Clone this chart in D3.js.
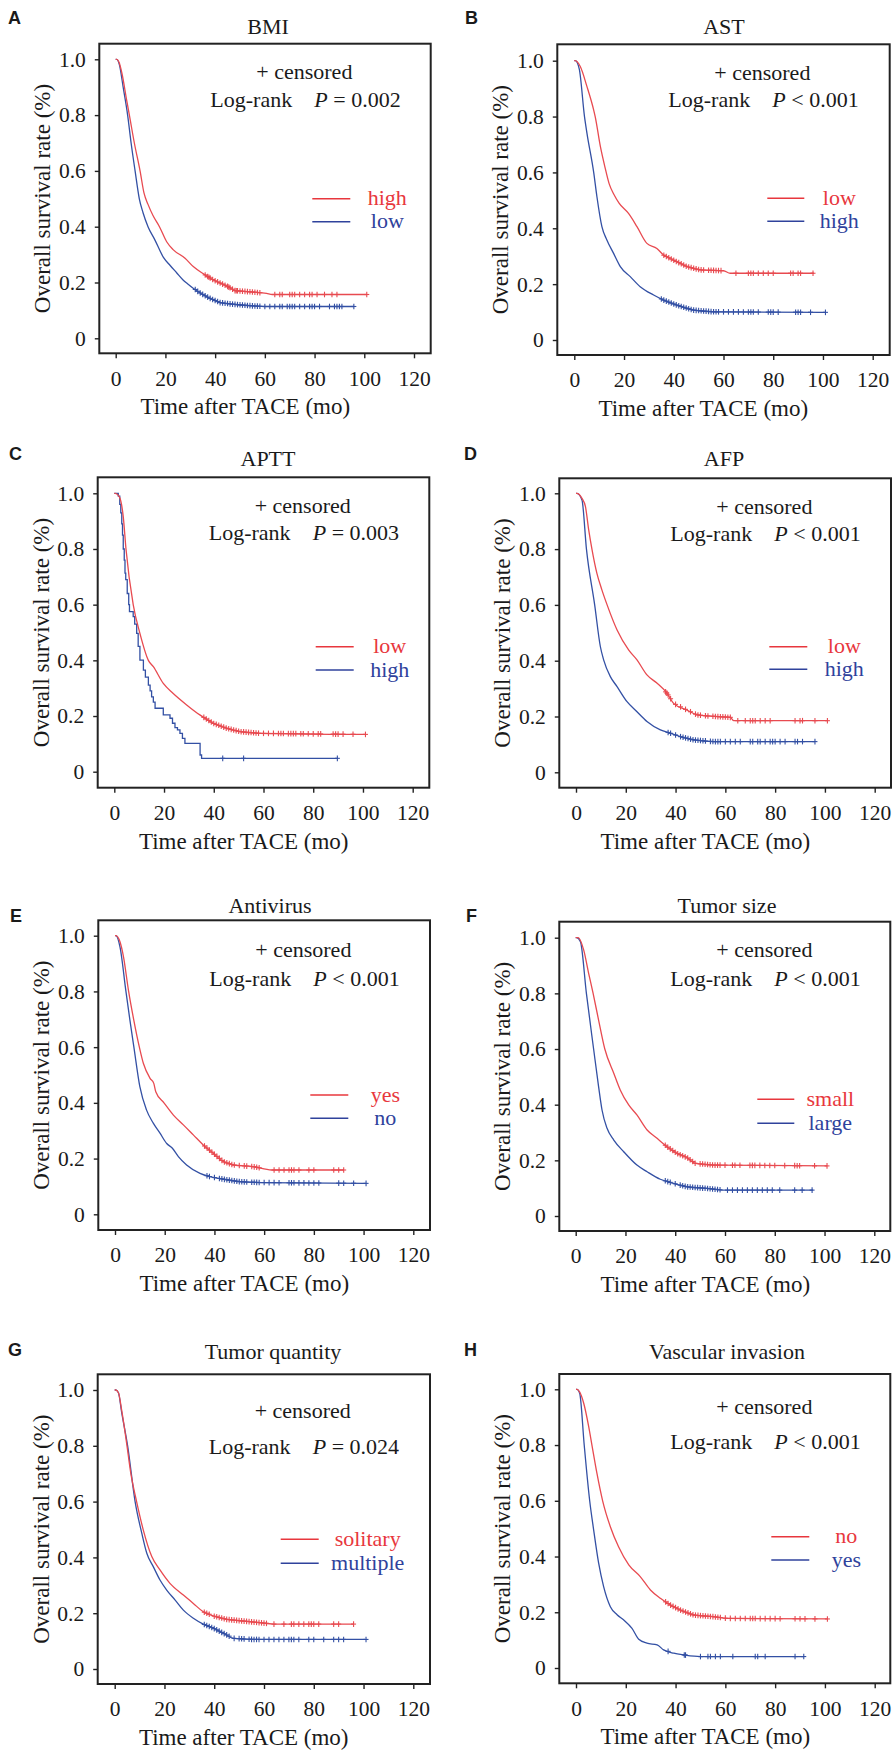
<!DOCTYPE html>
<html><head><meta charset="utf-8">
<script src="https://cdn.jsdelivr.net/npm/d3@7/dist/d3.min.js"></script>
<style>
html,body{margin:0;padding:0;background:#fff;}
svg{display:block;}
svg text{font-family:"Liberation Serif","Times New Roman",serif;}
svg text.plabel{font-family:"Liberation Sans",Arial,sans-serif;font-weight:bold;}
</style></head>
<body>
<svg id="chart" width="894" height="1754"></svg>
<script>
// ---------------- DATA ----------------
const panelLetters = ["A","B","C","D","E","F","G","H"];
const panelTitles = ["BMI","AST","APTT","AFP","Antivirus","Tumor size","Tumor quantity","Vascular invasion"];
const pValues = ["P = 0.002","P < 0.001","P = 0.003","P < 0.001","P < 0.001","P < 0.001","P = 0.024","P < 0.001"];
const redLabels = ["high","low","low","low","yes","small","solitary","no"];
const blueLabels = ["low","high","high","high","no","large","multiple","yes"];
const xTicks = [0,20,40,60,80,100,120];
const yTicks = [0,0.2,0.4,0.6,0.8,1.0];
const xTitle = "Time after TACE (mo)";
const yTitle = "Overall survival rate (%)";

// survival curves [months, survival]
const bmiHigh = [[0,1],[0.4,1],[1.3,0.99],[2.5,0.95],[4.4,0.854],[5.5,0.8],[7.5,0.7],[9.8,0.6],[11.4,0.52],[13,0.48],[15,0.44],[17.6,0.4],[20.5,0.346],[23.2,0.317],[27.9,0.287],[31.2,0.257],[35.3,0.231],[39.3,0.209],[44.6,0.188],[48,0.171],[55,0.166],[60.7,0.161],[63,0.157],[101,0.157]];
const bmiLow = [[0,1],[0.4,1],[1.5,0.98],[3,0.9],[4.8,0.8],[6.2,0.7],[7.8,0.6],[9.5,0.5],[11,0.45],[13,0.4],[15.8,0.352],[19.2,0.29],[22,0.26],[24.5,0.235],[27,0.21],[29,0.195],[33.5,0.165],[37.5,0.145],[42,0.128],[47.3,0.122],[55.4,0.116],[60,0.114],[95.8,0.114]];
const astLow = [[0,1],[0.4,1],[2.4,0.979],[5.1,0.907],[7.8,0.823],[8.4,0.8],[10.5,0.692],[12.3,0.62],[14,0.56],[16,0.52],[18,0.49],[21.8,0.453],[25.2,0.406],[29.2,0.346],[33.2,0.328],[35.9,0.304],[39.9,0.286],[45.3,0.263],[50.7,0.251],[60,0.248],[62.7,0.239],[96.3,0.239]];
const astHigh = [[0,1],[0.4,1],[2,0.97],[4.1,0.8],[5.1,0.74],[7.8,0.6],[9.1,0.513],[11.1,0.406],[13.1,0.358],[15.8,0.31],[18.5,0.263],[22.5,0.227],[26.5,0.191],[31.9,0.161],[35.9,0.143],[41.2,0.125],[47.9,0.107],[56,0.101],[100.9,0.099]];
const apttLow = [[0,1],[0.4,1],[2,0.988],[3.6,0.916],[4.7,0.8],[7.6,0.6],[10.3,0.497],[13.7,0.4],[15.7,0.377],[19.7,0.317],[23.7,0.281],[29.1,0.24],[34.4,0.204],[39.8,0.174],[45.2,0.156],[50.5,0.144],[58.6,0.138],[100.8,0.134]];
const apttHigh = [[0,1],[1.2,1],[1.6,0.99],[2.2,0.96],[2.6,0.93],[3,0.89],[3.3,0.85],[3.6,0.8],[4,0.76],[4.3,0.713],[4.6,0.69],[5.2,0.64],[5.8,0.6],[6.1,0.575],[7.6,0.557],[8.2,0.53],[9,0.497],[9.6,0.45],[10.3,0.401],[11.7,0.365],[12.5,0.34],[13.7,0.311],[14.4,0.29],[15,0.269],[15.7,0.25],[16.4,0.228],[19.7,0.204],[22.4,0.192],[23.4,0.174],[24.4,0.158],[25.4,0.15],[26.4,0.138],[27.4,0.12],[28.4,0.102],[34.5,0.06],[35.1,0.048],[89.7,0.048]];
const afpLow = [[0,1],[0.4,1],[2.4,0.982],[3.8,0.952],[5.1,0.869],[6.4,0.8],[8.4,0.713],[10.4,0.654],[12.5,0.6],[16.5,0.51],[21.2,0.438],[24.5,0.403],[28.5,0.349],[32.6,0.319],[36.6,0.283],[39.2,0.247],[44.6,0.223],[48.6,0.206],[52.6,0.202],[62,0.197],[63.4,0.185],[100.9,0.185]];
const afpHigh = [[0,1],[0.4,1],[2.4,0.976],[4.2,0.8],[7.5,0.6],[9.8,0.45],[11.1,0.403],[13.8,0.343],[16.5,0.307],[20.5,0.253],[24.5,0.217],[28.5,0.182],[33.9,0.152],[37.9,0.14],[41.9,0.128],[47.3,0.116],[55.3,0.11],[95.9,0.11]];
const antiYes = [[0,1],[0.4,1],[2,0.978],[3.4,0.925],[5.4,0.805],[7.5,0.7],[9.8,0.6],[11.4,0.542],[14.1,0.488],[15.6,0.47],[16.4,0.44],[19.7,0.4],[23.5,0.356],[27.5,0.321],[31.5,0.285],[35.5,0.249],[39.5,0.219],[43.6,0.189],[47.6,0.177],[55.6,0.171],[63,0.159],[92.1,0.159]];
const antiNo = [[0,1],[0.4,1],[2,0.96],[4.4,0.8],[6,0.697],[7.6,0.6],[10,0.458],[12.7,0.374],[15.4,0.327],[18.1,0.291],[20.8,0.254],[23,0.238],[25.5,0.207],[28.8,0.177],[34.2,0.147],[38.2,0.135],[43.6,0.126],[50.3,0.117],[58.3,0.114],[100.9,0.111]];
const sizeSmall = [[0,1],[1,1],[3.2,0.956],[5.2,0.872],[7,0.8],[9.2,0.704],[11.7,0.6],[15.3,0.513],[17.9,0.453],[21.3,0.399],[24.6,0.363],[28.7,0.309],[32.7,0.279],[36.7,0.249],[40.7,0.225],[44.7,0.21],[48.1,0.189],[55.5,0.183],[101,0.18]];
const sizeLarge = [[0,1],[0.4,1],[1.9,0.986],[4.3,0.8],[7.2,0.6],[9.2,0.465],[10.6,0.38],[12.6,0.315],[15.3,0.273],[19.3,0.231],[24.6,0.183],[28.7,0.159],[34,0.132],[39.4,0.117],[44.7,0.105],[52.8,0.099],[59.5,0.093],[95.4,0.093]];
const qtySolitary = [[0,1],[0.4,1],[1.5,0.99],[2.8,0.928],[4.8,0.809],[6.5,0.7],[8.8,0.6],[11.5,0.498],[14.9,0.403],[18.2,0.355],[22.2,0.307],[27.6,0.265],[31.6,0.235],[35.6,0.205],[39.7,0.19],[45,0.178],[50.4,0.173],[58.4,0.166],[63.8,0.161],[95.9,0.161]];
const qtyMultiple = [[0,1],[0.4,1],[1.5,0.99],[2.8,0.92],[5.2,0.8],[8.2,0.6],[10.9,0.486],[12.9,0.415],[15.5,0.367],[18.2,0.319],[20.9,0.283],[24.3,0.247],[27.6,0.211],[31.6,0.182],[35.6,0.161],[39.7,0.146],[43.7,0.128],[47.7,0.11],[55.7,0.106],[100.6,0.106]];
const vascNo = [[0,1],[0.4,1],[1.5,0.99],[3.1,0.95],[5.1,0.866],[6.4,0.8],[8.4,0.699],[10.7,0.6],[13.8,0.507],[17.1,0.435],[21.2,0.37],[25.8,0.328],[29.9,0.28],[33.9,0.25],[37.9,0.226],[41.9,0.208],[47.3,0.19],[55.3,0.184],[60.7,0.178],[100.9,0.176]];
const vascYes = [[0,1],[0.4,1],[1.5,0.985],[3.3,0.8],[5.5,0.6],[7.1,0.495],[9.1,0.376],[11.1,0.292],[13.8,0.22],[16.5,0.191],[19.2,0.172],[22.5,0.142],[25.2,0.103],[28.5,0.089],[32.6,0.083],[35.2,0.065],[39.3,0.053],[43.3,0.047],[50,0.041],[91.5,0.041]];

// censoring times (months)
const bmiHighCens = [36,37,37.5,38,39,40,41,42,43,44,45,45.5,46,47,48,48.5,49,50,51,52,53,54,55,56,57,58,64,66,67,70,71,72,74,76,78,79,81,84,87,89,101];
const bmiLowCens = [32,33,34,35,36,37,38,39,40,41,42,43,44,45,46,47,48,49,50,51,52,53,54,55,56,57,58,60,62,64,66,67,69,70,71,72,74,76,78,79,80,82,86,88,89,90,91,95.8];
const astLowCens = [36,37,38,39,40,41,42,43,44,45,46,47,48,49,50,51,52,54,55,56,57,58,59,65,70,71,72,74,76,78,80,87,88,90,91,96];
const astHighCens = [35,36,37,38,39,40,41,42,43,44,45,46,47,48,49,50,51,52,53,54,55,56,57,58,60,62,64,66,68,70,71,72,74,78,79,80,82,89,90,91,95,101];
const apttLowCens = [36,37,38,39,40,41,42,43,44,45,46,47,48,49,50,51,52,53,54,55,56,57,58,60,62,64,66,67,68,70,71,72,73,75,76,78,80,82,83,88,89,90,92,96,101];
const apttHighCens = [43.6,52,89.7];
const afpLowCens = [36,36.5,37,38,40,42,44,46,48,49,50,52,53,55,56,57,58,59,60,61,62,65,68,70,71,72,74,76,78,88,90,91,96,101];
const afpHighCens = [37,38,40,42,43,44,45,46,47,48,49,50,51,52,54,55,56,57,58,60,62,64,66,70,71,73,74,76,78,79,80,82,84,88,89,91,96];
const antiYesCens = [36,37,38,39,40,41,42,43,44,45,46,47,48,50,52,53,55,56,57,58,64,66,68,70,71,72,74,78,80,88,90,92];
const antiNoCens = [37,38,40,42,43,44,45,46,47,48,49,50,51,52,53,55,56,57,58,60,62,64,66,70,71,72,74,76,78,80,82,90,92,96,101];
const sizeSmallCens = [36,37,38,39,40,41,42,43,44,45,46,47,48,50,51,52,53,54,55,56,57,58,60,63,64,66,70,71,72,74,76,78,80,84,88,89,90,96,101];
const sizeLargeCens = [36,37,38,40,42,43,44,45,46,47,48,49,50,51,52,53,54,55,56,57,58,61,63,65,67,69,71,73,75,77,79,82,88,91,95];
const qtySolitaryCens = [36,37,38,40,41,42,43,44,45,46,47,48,49,50,51,52,53,54,55,56,57,58,59,60,61,64,68,71,72,74,76,78,79,80,82,88,90,96];
const qtyMultipleCens = [36,37,38,39,40,41,42,43,44,45,46,48,50,51,52,54,55,56,57,58,60,62,64,66,68,70,71,72,74,78,80,84,88,90,92,101];
const vascNoCens = [36,37,38,39,40,41,42,43,44,45,46,47,48,49,50,51,52,53,54,55,56,57,58,60,62,64,66,68,70,71,72,74,76,78,80,82,88,90,92,96,101];
const vascYesCens = [37,43.5,44,50,53,54,56,58,63,72,73,76,88,91.5];

const redCurves = [bmiHigh, astLow, apttLow, afpLow, antiYes, sizeSmall, qtySolitary, vascNo];
const blueCurves = [bmiLow, astHigh, apttHigh, afpHigh, antiNo, sizeLarge, qtyMultiple, vascYes];
const redCens = [bmiHighCens, astLowCens, apttLowCens, afpLowCens, antiYesCens, sizeSmallCens, qtySolitaryCens, vascNoCens];
const blueCens = [bmiLowCens, astHighCens, apttHighCens, afpHighCens, antiNoCens, sizeLargeCens, qtyMultipleCens, vascYesCens];
const blueStep = [false,false,true,false,false,false,false,false];

// ---------------- LAYOUT ----------------
const layout = [
  {box:[99.3,43.7,430.7,353.3], xr:[115.7,414], yr:[338.3,59.3], lab:[8,24], title:[268,34], annY:[28,56], legY:[155,178], legX:[213,251,288]},
  {box:[557.3,44.3,889.7,355], xr:[574.3,872.7], yr:[340,60.7], lab:[465,24], title:[724,34], annY:[27.5,55], legY:[154,177], legX:[210,247,282]},
  {box:[97.7,477.3,429.3,787.7], xr:[114.3,412.7], yr:[771.7,493.3], lab:[9,460], title:[268,466], annY:[27.7,55.4], legY:[169.4,192.7], legX:[218,256,292]},
  {box:[559.3,478.3,891,787.7], xr:[576,874.7], yr:[772.3,493.3], lab:[464,460], title:[724,466], annY:[27.7,55], legY:[168.4,191], legX:[210,248,285]},
  {box:[98.3,920.3,430,1230], xr:[115,413.3], yr:[1214.3,935.7], lab:[10,922], title:[270,913], annY:[29,58], legY:[174.7,198], legX:[212,250,287]},
  {box:[559.3,921.7,890.3,1231], xr:[575.7,874.3], yr:[1216,937.7], lab:[466,922], title:[727,913], annY:[27.6,56.6], legY:[177.6,201.6], legX:[198,235,271]},
  {box:[97.7,1374.3,430,1684], xr:[114.7,413.3], yr:[1669,1390], lab:[8,1356], title:[273,1359], annY:[36,72], legY:[165,189], legX:[183,221,270]},
  {box:[559.3,1374,890.3,1683.3], xr:[576,874.7], yr:[1668,1389.3], lab:[464,1356], title:[727,1359], annY:[32,67.7], legY:[162.7,186], legX:[212,250,287]}
];

const RED = "#e8373d", BLUE = "#2f429c";
const RED_LINE = "#e84a50", BLUE_LINE = "#3350a4";
const INK = "#1a1a1a";

const svg = d3.select("#chart");

function valueAt(data, t, step){
  if (t <= data[0][0]) return data[0][1];
  for (let i=1;i<data.length;i++){
    if (t <= data[i][0]){
      if (step) return t===data[i][0] ? data[i][1] : data[i-1][1];
      const a=data[i-1], b=data[i];
      return a[1] + (b[1]-a[1])*(t-a[0])/(b[0]-a[0]);
    }
  }
  return data[data.length-1][1];
}

layout.forEach((L, i) => {
  const [bl, bt, br, bb] = L.box;
  const x = d3.scaleLinear().domain([0,120]).range(L.xr);
  const y = d3.scaleLinear().domain([0,1]).range(L.yr);
  const g = svg.append("g");

  g.append("text").attr("class","plabel").attr("x", L.lab[0]).attr("y", L.lab[1])
    .attr("font-size", 18).attr("fill", INK).text(panelLetters[i]);
  g.append("text").attr("x", L.title[0]).attr("y", L.title[1])
    .attr("text-anchor","middle").attr("font-size", 22)
    .attr("fill", INK).text(panelTitles[i]);

  const ya = d3.axisLeft(y).tickValues(yTicks).tickFormat(d => d===0 ? "0" : d.toFixed(1))
    .tickSizeInner(4.5).tickSizeOuter(0).tickPadding(9);
  const yg = g.append("g").attr("transform", `translate(${bl},0)`).call(ya);
  yg.attr("font-family", null).attr("font-size", null);
  yg.select(".domain").remove();
  yg.selectAll(".tick line").attr("stroke","#222").attr("stroke-width",1.4);
  yg.selectAll(".tick text").attr("font-size", 21.5).attr("fill", INK);

  const xa = d3.axisBottom(x).tickValues(xTicks).tickFormat(d3.format("d"))
    .tickSizeInner(5).tickSizeOuter(0).tickPadding(12);
  const xg = g.append("g").attr("transform", `translate(0,${bb})`).call(xa);
  xg.attr("font-family", null).attr("font-size", null);
  xg.select(".domain").remove();
  xg.selectAll(".tick line").attr("stroke","#222").attr("stroke-width",1.4);
  xg.selectAll(".tick text").attr("font-size", 21.5).attr("fill", INK);

  g.append("rect").attr("x", bl).attr("y", bt).attr("width", br-bl).attr("height", bb-bt)
    .attr("fill","none").attr("stroke","#222").attr("stroke-width",2);

  g.append("text").attr("transform", `translate(${bl-57},${(bt+bb)/2}) rotate(-90)`)
    .attr("text-anchor","middle").attr("dy","0.35em").attr("font-size", 23)
    .attr("fill", INK).text(yTitle);
  g.append("text").attr("x", bl+146).attr("y", bb+61)
    .attr("text-anchor","middle").attr("font-size", 23)
    .attr("fill", INK).text(xTitle);

  g.append("text").attr("x", bl+157).attr("y", bt+L.annY[0]).attr("dy","0.35em")
    .attr("font-size", 22).attr("fill", INK).text("+ censored");
  const ann = g.append("text").attr("y", bt+L.annY[1]).attr("dy","0.35em")
    .attr("font-size", 22).attr("fill", INK);
  ann.append("tspan").attr("x", bl+111).text("Log-rank");
  const pv = pValues[i];
  ann.append("tspan").attr("x", bl+215).attr("font-style","italic").text(pv.slice(0,1));
  ann.append("tspan").text(pv.slice(1));

  const lineSmooth = d3.line().x(d=>x(d[0])).y(d=>y(d[1])).curve(d3.curveMonotoneX);
  const lineStep = d3.line().x(d=>x(d[0])).y(d=>y(d[1])).curve(d3.curveStepAfter);
  const series = [
    {data: blueCurves[i], cens: blueCens[i], color: BLUE_LINE, step: blueStep[i]},
    {data: redCurves[i], cens: redCens[i], color: RED_LINE, step: false}
  ];
  series.forEach(s => {
    g.append("path").attr("d", (s.step ? lineStep : lineSmooth)(s.data))
      .attr("fill","none").attr("stroke", s.color).attr("stroke-width",1.3);
    const cg = g.append("g").attr("stroke", s.color).attr("stroke-width",1.1);
    s.cens.forEach(t => {
      const cx = x(t), cy = y(valueAt(s.data, t, s.step));
      cg.append("line").attr("x1",cx).attr("x2",cx).attr("y1",cy-2.8).attr("y2",cy+2.8);
      cg.append("line").attr("x1",cx-2.5).attr("x2",cx+2.5).attr("y1",cy).attr("y2",cy);
    });
  });

  const [lx1, lx2, tx] = L.legX;
  [[redLabels[i], RED, L.legY[0]], [blueLabels[i], BLUE, L.legY[1]]].forEach(([lab, col, ly]) => {
    g.append("line").attr("x1", bl+lx1).attr("x2", bl+lx2).attr("y1", bt+ly).attr("y2", bt+ly)
      .attr("stroke", col).attr("stroke-width", 1.6);
    g.append("text").attr("x", bl+tx).attr("y", bt+ly).attr("dy","0.3em")
      .attr("text-anchor","middle").attr("font-size", 22)
      .attr("fill", col).text(lab);
  });
});
</script>
</body></html>
